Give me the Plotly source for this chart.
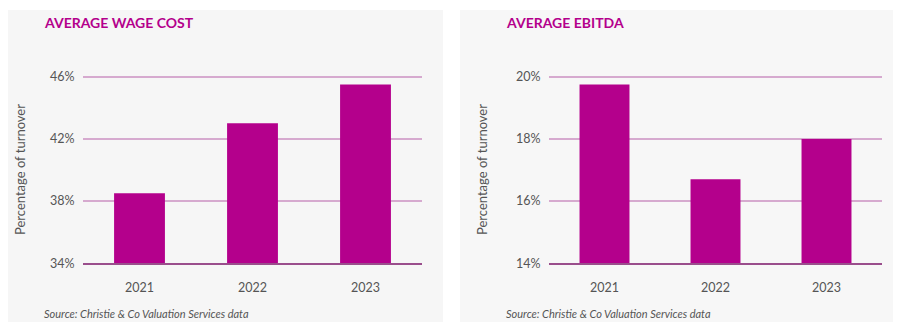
import plotly.graph_objects as go

years = ["2021", "2022", "2023"]
wage_cost = [38.5, 43.0, 45.5]
ebitda = [19.75, 16.7, 18.0]
wage_ticks = [34, 38, 42, 46]
ebitda_ticks = [14, 16, 18, 20]
titles = ["AVERAGE WAGE COST", "AVERAGE EBITDA"]
y_title = "Percentage of turnover"
source = "Source: Christie & Co Valuation Services data"

W, H = 906, 336
BAR = "#B4008C"
GRID = "#d6aacf"
BASE = "#9a4e8c"
TXT = "#555555"
FONT = "Lato"

fig = go.Figure()
fig.add_trace(go.Bar(x=years, y=wage_cost, marker_color=BAR, width=0.45,
                     xaxis="x", yaxis="y", showlegend=False, hoverinfo="skip"))
fig.add_trace(go.Bar(x=years, y=ebitda, marker_color=BAR, width=0.45,
                     xaxis="x2", yaxis="y2", showlegend=False, hoverinfo="skip"))

def px(x):
    return x / W

def py(y):
    return 1 - y / H

ydom = [py(263.3), py(74)]
xcommon = dict(showgrid=False, showline=True, linecolor=BASE, linewidth=2,
               ticks="outside", ticklen=12, tickcolor="rgba(0,0,0,0)", automargin=False,
               tickfont=dict(family=FONT, size=12.5, color=TXT), fixedrange=True)
ycommon = dict(showgrid=True, gridcolor=GRID, gridwidth=1.5, showline=False,
               zeroline=False, ticks="outside", ticklen=5, tickcolor="rgba(0,0,0,0)",
               automargin=False,
               tickfont=dict(family=FONT, size=12.5, color=TXT), fixedrange=True)

# 46 / 20 gridline sits 2.7px below the domain top so it is drawn
wtop = 46 + (46 - 34) * 2.7 / (263.3 - 76.7)
etop = 20 + (20 - 14) * 2.7 / (263.3 - 76.7)

fig.update_layout(
    template="none",
    width=W, height=H,
    margin=dict(l=0, r=0, t=0, b=0, autoexpand=False),
    paper_bgcolor="white", plot_bgcolor="rgba(0,0,0,0)",
    xaxis=dict(domain=[px(83), px(422)], anchor="y", **xcommon),
    yaxis=dict(domain=ydom, anchor="x", range=[34, wtop], tickvals=wage_ticks,
               ticktext=[f"{v}%" for v in wage_ticks], **ycommon),
    xaxis2=dict(domain=[px(549), px(882)], anchor="y2", **xcommon),
    yaxis2=dict(domain=ydom, anchor="x2", range=[14, etop], tickvals=ebitda_ticks,
                ticktext=[f"{v}%" for v in ebitda_ticks], **ycommon),
    shapes=[
        dict(type="rect", xref="paper", yref="paper", x0=px(8), x1=px(443),
             y0=py(322), y1=py(10), fillcolor="#f6f6f6", line_width=0, layer="below"),
        dict(type="rect", xref="paper", yref="paper", x0=px(460), x1=px(893),
             y0=py(322), y1=py(10), fillcolor="#f7f7f7", line_width=0, layer="below"),
    ],
)

annots = []
for tx, t, ytx, srcx in [(42, titles[0], 20, 42), (504, titles[1], 482, 504)]:
    annots.append(dict(text=f"<b>{t}</b>", x=px(tx), y=py(23), xref="paper", yref="paper",
                       xanchor="left", yanchor="middle", showarrow=False,
                       font=dict(family=FONT, size=14, color=BAR)))
    annots.append(dict(text=y_title, x=px(ytx), y=py(170), xref="paper", yref="paper",
                       xanchor="center", yanchor="middle", textangle=-90, showarrow=False,
                       font=dict(family=FONT, size=13, color=TXT)))
    annots.append(dict(text=f"<i>{source}</i>", x=px(srcx), y=py(313), xref="paper",
                       yref="paper", xanchor="left", yanchor="middle", showarrow=False,
                       font=dict(family=FONT, size=11, color=TXT)))
fig.update_layout(annotations=annots)

fig.write_html("out.html")
